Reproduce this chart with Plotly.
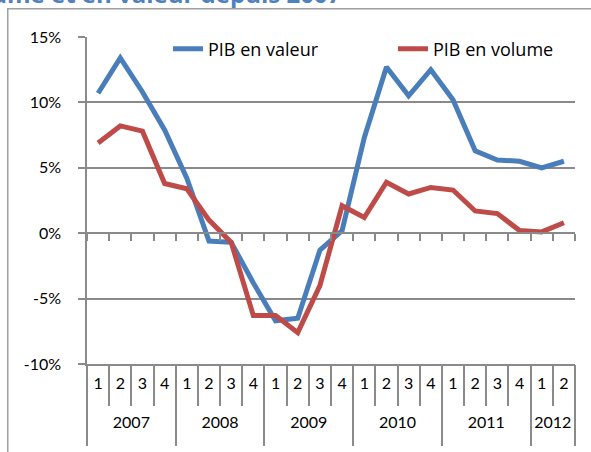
import plotly.graph_objects as go

quarters = ["1", "2", "3", "4"] * 5 + ["1", "2"]
years = ["2007", "2008", "2009", "2010", "2011", "2012"]
year_sizes = [4, 4, 4, 4, 4, 2]
pib_valeur = [10.7, 13.4, 10.8, 7.9, 4.2, -0.6, -0.7, -3.8, -6.7, -6.5, -1.3, 0.2,
              7.3, 12.7, 10.5, 12.5, 10.2, 6.3, 5.6, 5.5, 5.0, 5.5]
pib_volume = [6.9, 8.2, 7.8, 3.8, 3.4, 1.0, -0.7, -6.3, -6.3, -7.6, -4.0, 2.1,
              1.2, 3.9, 3.0, 3.5, 3.3, 1.7, 1.5, 0.2, 0.1, 0.8]
y_ticks = [15, 10, 5, 0, -5, -10]
y_labels = ["15%", "10%", "5%", "0%", "-5%", "-10%"]
title_text = "Évolution du PIB en volume et en valeur depuis 2007"

n = len(quarters)
xs = list(range(n))

year_centers = []
year_bounds = [-0.5]
start = 0
for s in year_sizes:
    year_centers.append(start + (s - 1) / 2)
    start += s
    year_bounds.append(start - 0.5)

GRAY = "#8a8a8a"
FONT = "Lato"
W, H = 591, 452
# plot area in window pixels: x 87..575, y 37..364
L, T = 87, 37
R = W - 575
B = H - 364

ph = H - T - B
pw = W - L - R
def px_x(p):  # window pixel -> paper
    return (p - L) / pw
def px_y(p):
    return (H - B - p) / ph

fig = go.Figure()
fig.add_trace(go.Scatter(x=xs, y=pib_valeur, mode="lines", name="PIB en valeur",
                         line=dict(color="#4A7EBB", width=5), legend="legend"))
fig.add_trace(go.Scatter(x=xs, y=pib_volume, mode="lines", name="PIB en volume",
                         line=dict(color="#BE4B48", width=5), legend="legend2"))
fig.add_trace(go.Scatter(x=[0], y=[0], xaxis="x2", mode="none", showlegend=False, hoverinfo="skip"))
fig.add_trace(go.Scatter(x=[0], y=[0], xaxis="x3", mode="none", showlegend=False, hoverinfo="skip"))

xr = [-0.5, n - 0.5]
leg_common = dict(orientation="h", xanchor="left", yanchor="middle", y=px_y(49),
                  bgcolor="rgba(0,0,0,0)", font=dict(size=18, family="Open Sans"))
fig.update_layout(
    width=W, height=H,
    margin=dict(l=L, r=R, t=T, b=B, autoexpand=False),
    paper_bgcolor="white", plot_bgcolor="white",
    font=dict(family=FONT, size=16, color="black"),
    showlegend=True,
    legend=dict(x=px_x(168), **leg_common),
    legend2=dict(x=px_x(393), **leg_common),
    xaxis=dict(range=xr, tickmode="array", tickvals=xs, ticktext=quarters,
               ticks="", showgrid=False, zeroline=False, showline=True, automargin=False,
               linecolor=GRAY, linewidth=1.5, ticklabelstandoff=4,
               minor=dict(tickmode="linear", tick0=-0.5, dtick=1, ticks="outside",
                          ticklen=40, tickcolor=GRAY, tickwidth=1.5, showgrid=False)),
    xaxis2=dict(range=xr, overlaying="x", anchor="free", position=0.4, side="bottom",
                showticklabels=False, ticks="", showgrid=False, zeroline=False,
                showline=True, linecolor=GRAY, linewidth=1.5, automargin=False,
                minor=dict(tickmode="linear", tick0=-0.5, dtick=1, ticks="outside",
                           ticklen=7, tickcolor=GRAY, tickwidth=1.5, showgrid=False)),
    xaxis3=dict(range=xr, overlaying="x", anchor="free", position=0, side="bottom",
                tickmode="array", tickvals=year_centers, ticktext=years, ticks="",
                ticklabelstandoff=47, showgrid=False, zeroline=False, showline=False,
                automargin=False,
                minor=dict(tickmode="array", tickvals=year_bounds, ticks="outside",
                           ticklen=81, tickcolor=GRAY, tickwidth=1.5, showgrid=False)),
    yaxis=dict(range=[-10, 15], tickmode="array", tickvals=y_ticks, ticktext=y_labels,
               showgrid=True, gridcolor=GRAY, gridwidth=1.5, zeroline=False,
               showline=True, linecolor=GRAY, linewidth=1.5, automargin=False,
               ticks="outside", ticklen=7, tickcolor=GRAY, tickwidth=1.5,
               ticklabelstandoff=14),
)

fig.add_annotation(text="<b>" + title_text + "</b>", xref="paper", yref="paper",
                   x=px_x(343), y=px_y(-6), xanchor="right", yanchor="middle",
                   showarrow=False, font=dict(size=24, color="#4F81BD", family="Open Sans"))
# chart border: an empty bordered box whose top-left corner sits at (7, 8)
fig.add_annotation(text=" ", xref="paper", yref="paper",
                   x=px_x(7), y=px_y(8), xanchor="left", yanchor="top",
                   width=700, height=600, align="left", valign="top",
                   showarrow=False, bordercolor="#a0a0a0", borderwidth=1.5,
                   borderpad=0, bgcolor="rgba(0,0,0,0)")

post = (
    "document.body.style.margin='0';"
    "document.body.style.overflow='hidden';"
)
fig.write_html("out.html", config={"displayModeBar": False}, post_script=post)
